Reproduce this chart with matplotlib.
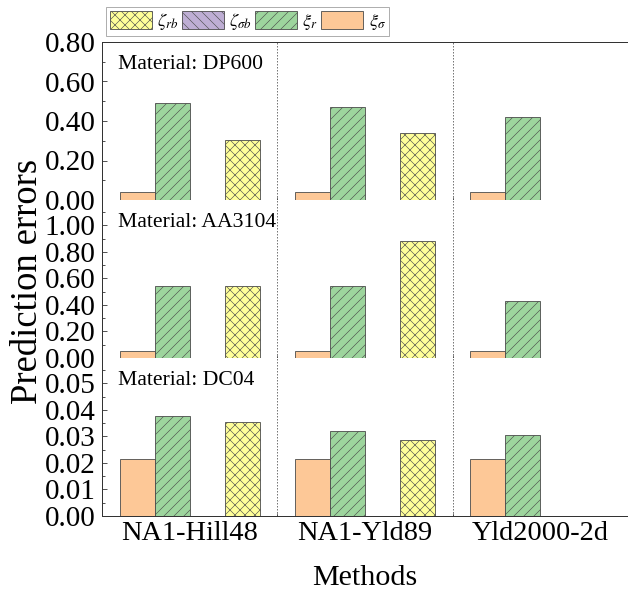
import numpy as np
import matplotlib
matplotlib.use("Agg")
import matplotlib.pyplot as plt
from matplotlib.ticker import MultipleLocator, FixedLocator, NullFormatter
from matplotlib.patches import Patch

plt.rcParams['font.family'] = 'serif'
plt.rcParams['font.serif'] = ['Liberation Serif', 'DejaVu Serif']
plt.rcParams['mathtext.fontset'] = 'stix'
plt.rcParams['hatch.linewidth'] = 0.7

DPI = 60

methods = ['NA1-Hill48', 'NA1-Yld89', 'Yld2000-2d']
materials = ['DP600', 'AA3104', 'DC04']

# prediction errors per material, one value per method
xi_sigma = {
    'DP600':  [0.042, 0.042, 0.040],
    'AA3104': [0.053, 0.053, 0.050],
    'DC04':   [0.0215, 0.0215, 0.0215],
}
xi_r = {
    'DP600':  [0.490, 0.470, 0.419],
    'AA3104': [0.540, 0.545, 0.430],
    'DC04':   [0.0375, 0.0320, 0.0305],
}
zeta_sb = {
    'DP600':  [0.0, 0.0, 0.0],
    'AA3104': [0.0, 0.0, 0.0],
    'DC04':   [0.0, 0.0, 0.0],
}
zeta_rb = {
    'DP600':  [0.304, 0.338, 0.0],
    'AA3104': [0.540, 0.883, 0.0],
    'DC04':   [0.0355, 0.0285, 0.0],
}

y_limits = {'DP600': 0.80, 'AA3104': 1.19, 'DC04': 0.0595}
y_major = {'DP600': 0.2, 'AA3104': 0.2, 'DC04': 0.01}
y_labeled_max = {'DP600': 0.80, 'AA3104': 1.00, 'DC04': 0.05}

c_sigma = '#FDC897'
c_r = '#9DD59D'
c_sb = '#BEAED4'
c_rb = '#FFFF99'
edge = '#4a4a4a'

series = [
    (xi_sigma, c_sigma, '', r'$\xi_{\sigma}$'),
    (xi_r, c_r, '//', r'$\xi_{r}$'),
    (zeta_sb, c_sb, '\\\\', r'$\zeta_{\sigma b}$'),
    (zeta_rb, c_rb, 'xx', r'$\zeta_{rb}$'),
]

W, H = 628, 592
fig = plt.figure(figsize=(W / DPI, H / DPI), dpi=DPI)

left = 102 / W
right = 1.0
top_px, bot_px = 42, 516
panel_h = (bot_px - top_px) / 3

x = np.arange(len(methods))
width = 0.2
offsets = [-1.5, -0.5, 0.5, 1.5]

axes = []
for i, mat in enumerate(materials):
    y0 = bot_px - (2 - i) * panel_h
    ax = fig.add_axes([left, 1 - y0 / H, right - left, panel_h / H])
    axes.append(ax)
    for (data, color, hatch, label), off in zip(series, offsets):
        vals = np.array(data[mat], dtype=float)
        mask = vals > 0
        ax.bar(x[mask] + off * width, vals[mask], width, color=color,
               edgecolor=edge, linewidth=1.0, hatch=hatch, zorder=2)
    ax.set_xlim(-0.5, 2.5)
    ax.set_ylim(0, y_limits[mat])
    for sep in (0.5, 1.5):
        ax.axvline(sep, color='#777777', linestyle=(0, (1.5, 1.5)),
                   linewidth=1.2, zorder=1)
    step = y_major[mat]
    ticks = np.arange(0, y_labeled_max[mat] + step / 2, step)
    ax.yaxis.set_major_locator(FixedLocator(ticks))
    ax.yaxis.set_minor_locator(MultipleLocator(step / 2))
    ax.set_yticklabels([f'{t:.2f}' for t in ticks])
    ax.tick_params(axis='y', which='major', direction='in', length=6,
                   width=1, labelsize=35, pad=8, color='#333333')
    ax.tick_params(axis='y', which='minor', direction='in', length=4,
                   width=1, color='#333333')
    ax.spines['right'].set_visible(False)
    if i > 0:
        ax.spines['top'].set_visible(False)
    for s in ('left', 'bottom', 'top'):
        ax.spines[s].set_color('#333333')
        ax.spines[s].set_linewidth(1.2)
    ax.xaxis.set_major_locator(FixedLocator([0.5, 1.5]))
    ax.xaxis.set_major_formatter(NullFormatter())
    ax.xaxis.set_minor_locator(FixedLocator(x))
    ax.tick_params(axis='x', which='major', direction='in', length=4,
                   color='#333333')
    ax.tick_params(axis='x', which='minor', length=0, labelsize=34, pad=6)
    if i < 2:
        ax.xaxis.set_minor_formatter(NullFormatter())
    else:
        ax.set_xticks(x, methods, minor=True)
    ax.text(16 / (W * (right - left)), 0.86, f'Material: {mat}',
            transform=ax.transAxes, fontsize=26, va='center', ha='left')

fig.text(28 / W, 1 - 281 / H, 'Prediction errors', rotation=90,
         fontsize=44, ha='center', va='center')
fig.text(365 / W, 1 - 578 / H, 'Methods', fontsize=36, ha='center',
         va='center')

handles = [Patch(facecolor=c_rb, edgecolor=edge, hatch='xx'),
           Patch(facecolor=c_sb, edgecolor=edge, hatch='\\\\'),
           Patch(facecolor=c_r, edgecolor=edge, hatch='//'),
           Patch(facecolor=c_sigma, edgecolor=edge)]
labels = [s[3] for s in reversed(series)]
leg = fig.legend(handles, labels, ncol=4, loc='upper left',
                 bbox_to_anchor=(106 / W, 1 - 7 / H), fontsize=22,
                 frameon=True, fancybox=False, handlelength=2.3,
                 handleheight=1.2, handletextpad=0.3, columnspacing=0.15,
                 borderpad=0.2, borderaxespad=0.0)
leg.get_frame().set_edgecolor('#888888')
leg.get_frame().set_linewidth(1.0)

fig.savefig('out.png', dpi=DPI)
